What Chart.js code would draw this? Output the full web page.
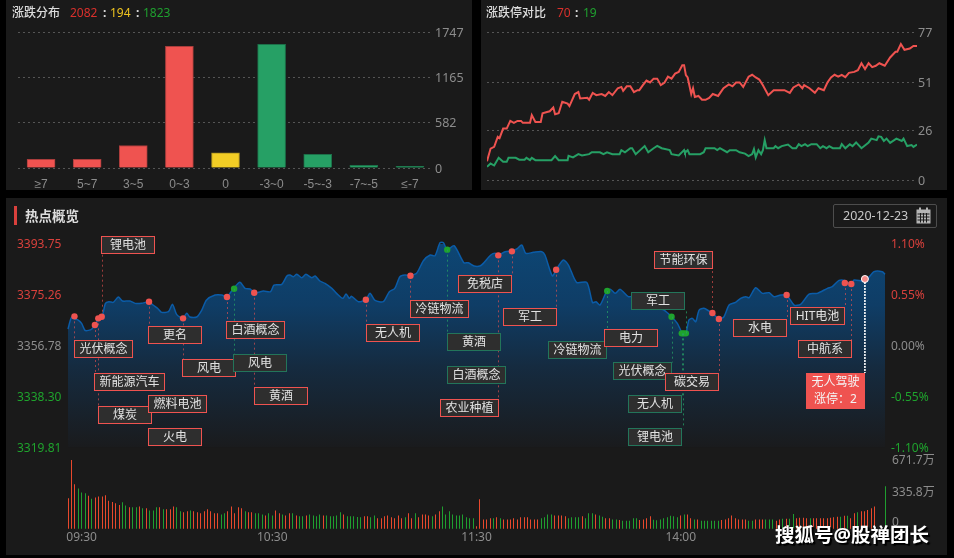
<!DOCTYPE html>
<html lang="zh">
<head>
<meta charset="utf-8">
<script src="https://cdn.jsdelivr.net/npm/chart.js@4"></script>
<style>
html,body{margin:0;padding:0;background:#000;width:954px;height:558px;overflow:hidden;font-family:"Noto Sans","Noto Sans CJK SC",sans-serif}
.panel{position:absolute;background:#1a1a1a}
canvas{position:absolute}
.t{position:absolute;white-space:nowrap;line-height:16px;font-size:12px}
</style>
</head>
<body>
<div class="panel" style="left:6px;top:0;width:466px;height:190px"></div>
<div class="panel" style="left:481px;top:0;width:466px;height:190px"></div>
<div class="panel" style="left:6px;top:198px;width:941px;height:357px"></div>

<div style="position:absolute;left:6px;top:0;width:466px;height:190px"><canvas id="dist"></canvas></div>
<div style="position:absolute;left:481px;top:0;width:466px;height:190px"><canvas id="limit"></canvas></div>
<div style="position:absolute;left:6px;top:198px;width:941px;height:257px"><canvas id="hot"></canvas></div>
<div style="position:absolute;left:6px;top:445px;width:941px;height:110px"><canvas id="vol"></canvas></div>

<span class="t" style="left:12px;top:5px;color:#ddd;font-weight:500">涨跌分布</span>
<span class="t" style="left:70px;top:5px;color:#d9302c">2082</span>
<span class="t" style="left:103px;top:5px;color:#ddd;font-weight:700">:</span>
<span class="t" style="left:110px;top:5px;color:#eec31f">194</span>
<span class="t" style="left:136px;top:5px;color:#ddd;font-weight:700">:</span>
<span class="t" style="left:143px;top:5px;color:#1fa02f">1823</span>

<span class="t" style="left:486px;top:5px;color:#ddd;font-weight:500">涨跌停对比</span>
<span class="t" style="left:557px;top:5px;color:#d9302c">70</span>
<span class="t" style="left:575px;top:5px;color:#ddd;font-weight:700">:</span>
<span class="t" style="left:583px;top:5px;color:#1fa02f">19</span>

<div style="position:absolute;left:14px;top:206px;width:3px;height:19px;background:#d9403c"></div>
<span class="t" style="left:25px;top:208px;color:#ddd;font-size:13.5px;font-weight:700">热点概览</span>

<div style="position:absolute;left:833px;top:204px;width:102px;height:22px;border:1px solid #4d4d4d;border-radius:2px"></div>
<span class="t" style="left:843px;top:208px;color:#c8c8c8;font-size:12.5px">2020-12-23</span>
<svg style="position:absolute;left:916px;top:207px" width="15" height="17" viewBox="0 0 15 17">
<rect x="0.5" y="2.5" width="14" height="14" fill="#b5b5b5"/>
<rect x="3" y="0.5" width="2" height="4" fill="#b5b5b5"/><rect x="10" y="0.5" width="2" height="4" fill="#b5b5b5"/>
<path d="M1.5 7h12M1.5 10h12M1.5 13h12M4.5 6v9.5M7.5 6v9.5M10.5 6v9.5" stroke="#1a1a1a" stroke-width="1" fill="none"/>
</svg>

<span class="t" style="left:775px;top:523px;line-height:24px;color:#fff;font-size:19.5px;font-weight:700;text-shadow:1px 1px 1px #000,2px 2px 1px #000">搜狐号@股禅团长</span>

<script>
/* ---------- distribution ---------- */
const distLabels = ['≥7','5~7','3~5','0~3','0','-3~0','-5~-3','-7~-5','≤-7'];
const distValues = [112,112,290,1568,194,1595,175,33,20];
const distTicks  = [0,582,1165,1747];

/* ---------- limit up / limit down ---------- */
const limitUpMinutes = [0,2,4,6,7,9,11,13,15,17,19,20,22,24,25,27,30,31,33,35,37,38,40,42,45,46,49,51,52,56,57,59,61,64,66,68,70,73,75,76,78,80,82,84,85,87,89,91,93,95,97,99,101,103,105,107,109,110,111,112,114,115,116,118,120,122,124,126,129,132,135,137,139,141,143,146,148,150,152,154,157,160,163,166,169,171,174,176,177,180,183,185,188,190,192,194,196,198,200,202,205,207,209,211,213,215,217,219,222,225,228,229,231,233,236,238,240];
const limitUpValues  = [10,16.6,17.5,22.7,22,27,27,31,30,31,31,30,30,30,34,30.5,30.5,35,35.5,36,38,34.5,35,41,40,38.7,45,46,42.7,43,42,45.6,44.4,45,44,46,44.4,48,48.7,46.6,49,49,46,47,47,49.6,52,51,53,53,49.6,50.8,54,53,55.6,56.5,60,60,54.8,53.6,45,48,43.5,44,42,42,43,45,44,48,50,49,51,51,48.7,54,55,53.6,52.5,49.6,44.4,47,47,47,45.6,48.4,50,48,49.6,48,45.6,48,47,51,53.6,55,54,55,53.8,56,56.5,57.4,61,58,61,59,59.7,61,59.7,64,67,67,71,68,68.7,70,70];
const limitDownMinutes = [0,2,4,6.5,9,11,12,16,18,21,22,24,25,27,36,38,40,45,45.5,48,51,53,57,58.5,63,65,67,70,74,75,77,80,81,83,85.5,88,90,93,95,97.5,102,103,107,110,110.5,112,113,119,121,122,127,128.5,130,134,135.5,139,141,144,146,148,149,150,151.5,153,154,155,156,160,161,162.5,164.5,168,170.5,172.5,174,175.5,177.5,179,181,184,186,187.5,189.5,191,193,197,198,200,202.5,204,206,209,213,214.5,217.5,218.5,220,221.5,223,225,228.5,231.5,232.5,234.5,237,238,240];
const limitDownValues  = [7.1,8.8,7.8,11.8,9.7,9.7,11.8,11.8,10.8,10.8,11.8,10.6,11.8,10.6,10.6,12.7,10.6,10.6,12.8,12,13.7,13,13.7,14.7,14.7,13.7,14.7,13.7,13.7,15.8,14.7,16.8,16.8,13.7,15.8,17.9,14.7,16.8,18,16.8,15.8,13.7,13,15.8,14.4,15.8,13.7,13.7,14.7,16.8,16.8,15.8,16.8,14.7,15.8,15.8,14.7,14,12.7,13.7,16.3,12,15.8,13.7,15.8,21,16.8,16.8,17.9,16.8,17.9,18.7,16.8,16.8,18.9,17.9,18.9,17.9,18.9,18.9,16.8,17.9,16.8,17.9,16.8,16.8,18.9,16.8,18.9,17.9,19.8,16.8,19.8,21.8,21,23,22.7,20.6,21.8,19.6,21.8,20.6,21.8,17.9,18.4,17.5,18.7];
const limitTicks = [0,26,51,77];

/* ---------- index intraday ---------- */
const priceMinutes = [0,1,2,3,4,5,6,7,8,9,10,11,12,13.3,14.8,16,18.2,19.7,21.6,23.8,25,26.5,27.5,29.5,30.7,31.9,33.7,34.9,35.8,37.8,39.3,40.7,43.2,45.2,46.6,48.6,50.5,52,53.5,54.7,55.9,57.4,59.5,60.5,62.8,64.3,65.2,66.2,67.2,68.7,69.9,71.6,72.6,74,75.5,77.5,78.9,80.7,81.7,82.6,83.3,85.3,87.5,88.7,90.2,92.6,94.4,96,97.5,99,100.5,102.4,104.4,106.4,107.8,109.3,110.3,111.4,113.4,116.3,117.6,119.3,121,122,124.2,125.5,126.4,128.4,130.3,131.8,133.3,134.5,136.7,139.2,140.1,142.3,143.4,145.5,147,149.4,152.4,154.1,155.1,156.3,158.3,159.4,160.7,162.2,164.6,166.6,169.2,173.4,175.1,177.3,179,180.5,181.5,182.4,183.4,184.4,185.4,186.8,188.3,189.3,191.2,192.7,194.2,196.1,197.6,199.1,200.1,202,204,206,207.4,209.4,211.1,213.3,215.2,217.7,220.1,223.1,224.5,226.5,228.2,229,230.1,230.9,234.1,236.8,239.2,240];
const priceValues = [3362.86,3366.98,3366.49,3366.13,3364.92,3362.37,3362.37,3362.86,3364.55,3366.73,3367.34,3372.18,3372.79,3372.55,3374.49,3373.03,3373.03,3372.18,3372.18,3372.79,3371.58,3370.13,3368.91,3369.16,3371.82,3368.19,3366.73,3368.55,3367.22,3367.22,3369.76,3373.4,3375.21,3375.21,3374.49,3377.51,3379.81,3377.64,3377.39,3376.06,3376.18,3376.67,3376.42,3378.85,3379.09,3382.12,3382.48,3381.88,3382.72,3381.51,3382.72,3381.51,3382.12,3380.3,3379.45,3377.64,3375.82,3374,3375.58,3374,3374.73,3372.79,3373.52,3375.82,3373.27,3372.79,3376.42,3377.64,3381.88,3382.48,3382.36,3383.09,3387.69,3389.75,3389.5,3394.23,3394.23,3391.56,3393.14,3386.96,3386.96,3385.75,3385.75,3386.72,3389.75,3390.35,3389.63,3390.96,3391.2,3391.93,3393.38,3390.35,3390.72,3390.96,3389.75,3382.12,3384.42,3387.93,3386.11,3379.81,3379.81,3372.43,3372.79,3371.58,3376.67,3377.27,3375.82,3377.27,3374.61,3374.85,3372.79,3370.37,3369.76,3367.34,3364.92,3361.28,3361.28,3366.13,3366.73,3365.52,3369.76,3370.37,3369.4,3368.67,3366.49,3367.34,3371.58,3372.55,3374,3374.61,3374.24,3377.88,3375.82,3376.06,3374.61,3375.21,3375.21,3371.58,3371.82,3375.58,3375.82,3377.64,3378.24,3380.54,3380.54,3379.81,3379.21,3380.66,3380.3,3383.69,3383.69,3382.72];
const priceTicks = [3319.81,3338.30,3356.78,3375.26,3393.75];
const percentTicks = [-1.10,-0.55,0,0.55,1.10];

/* ---------- hotspot labels ---------- */
const hotNames   = ['光伏概念','新能源汽车','煤炭','锂电池','更名','燃料电池','火电','风电','白酒概念','风电','黄酒','无人机','冷链物流','黄酒','白酒概念','农业种植','免税店','军工','冷链物流','电力','光伏概念','无人机','锂电池','军工','节能环保','碳交易','水电','HIT电池','中航系'];
const hotMinutes = [1.9,7.9,8.9,9.9,23.8,null,null,33.8,46.7,48.8,54.7,87.5,100.6,111.4,null,126.4,130.4,143.4,158.4,null,177.3,180.3,180.8,181.5,189.3,191.2,211.1,228.2,230.1];
const hotPrices  = [3367.46,3364.31,3366.73,3367.34,3372.79,null,null,3366.73,3374.49,3377.51,3376.06,3373.52,3382.24,3391.69,null,3389.63,3391.08,3384.42,3376.67,null,3367.34,3361.28,3361.28,3361.28,3368.67,3366.49,3375.21,3379.57,3379.21];
const hotRising  = [1,1,1,1,1,1,1,1,1,0,1,1,1,0,0,1,1,1,0,1,0,0,0,0,1,1,1,1,1];
const currentName = ['无人驾驶','涨停：2'];
const currentMinute = 234.1;
const currentPrice = 3381.03;

/* ---------- volume ---------- */
const timeTicks = ['09:30','10:30','11:30','14:00'];
const volumeTickLabels = ['671.7万','335.8万','0'];
const volumeValues = [
297,671.7,434,394,355,346,323,293,306,316,
316,326,274,261,248,231,258,228,209,209,
209,218,199,199,179,179,209,209,189,189,
189,218,209,170,160,170,179,170,160,150,
170,189,170,150,150,140,150,170,218,150,
209,199,170,160,160,150,150,140,130,150,
130,179,150,140,130,150,150,130,121,121,
130,140,130,121,140,130,130,121,121,130,
160,140,121,121,121,114,111,121,121,111,
130,101,101,121,130,111,101,130,101,111,
150,101,150,111,140,140,130,121,140,170,
218,140,170,140,130,130,140,111,101,101,
23,287,91,91,101,101,111,101,91,91,
91,101,91,111,111,111,91,91,91,101,
111,140,140,130,130,130,121,101,111,111,
111,121,101,150,150,140,130,117,101,101,
91,91,85,78,78,78,101,101,85,91,
101,121,88,82,91,101,111,127,121,111,
130,140,140,101,91,91,78,78,78,78,
78,78,85,91,101,130,101,91,91,91,
78,78,91,91,91,91,91,91,78,91,
98,98,98,143,101,108,108,101,101,101,
101,101,101,101,108,111,117,117,127,127,
101,150,160,170,170,183,199,218,null,null,414];
const volumeRising = [
1,1,1,0,0,0,1,0,1,1,
1,1,1,1,1,1,0,0,1,0,
0,1,0,1,0,0,0,1,0,1,
1,1,0,0,1,1,0,1,1,1,
1,1,1,1,1,0,0,1,1,1,
1,1,0,1,1,0,0,0,1,0,
0,1,1,0,1,1,0,1,0,0,
1,0,0,0,0,1,0,0,0,0,
0,1,0,0,0,0,0,1,1,0,
0,1,1,1,1,1,1,1,1,0,
1,1,0,1,1,1,1,0,1,1,
0,0,0,0,0,0,0,0,0,0,
1,1,1,1,1,0,1,0,1,1,
1,1,1,1,1,1,1,1,1,0,
0,0,0,1,1,1,1,0,0,0,
0,1,0,0,0,1,0,0,1,1,
0,0,1,0,0,0,0,0,1,1,
1,1,0,0,0,0,0,0,0,0,
1,0,1,1,0,1,0,0,0,0,
0,0,1,1,1,1,1,1,1,1,
0,0,1,1,1,0,0,0,1,1,
0,1,0,0,1,1,1,1,0,1,
1,1,1,1,1,1,1,0,1,0,
1,1,0,1,1,1,1,1,0,0,0];

/* ---------- layout and style (separate from the data) ---------- */
const FONT = '"Noto Sans","Noto Sans CJK SC",sans-serif';
const GREY = '#8c8c8c', RED = '#ef5350', GREEN_BAR = '#26a065', MARK_GREEN = '#1fa32d';
const UP_TEXT = '#d8403c', DOWN_TEXT = '#1fa32d';
/* page-space boxes [left, top, right, bottom], same order as hotNames */
const BOXES = [[74.5,340.5,132.5,357.5],[94.5,373.5,164.5,390.5],[98.5,406.5,151.5,423.5],[101.5,236.5,154.5,253.5],[148.5,326.5,201.5,343.5],[148.5,395.5,206.5,412.5],[148.5,428.5,201.5,445.5],[182.5,359.5,235.5,376.5],[226.5,321.5,284.5,338.5],[233.5,354.5,286.5,371.5],[254.5,387.5,307.5,404.5],[366.5,324.5,419.5,341.5],[410.5,300.5,468.5,317.5],[447.5,333.5,500.5,350.5],[447.5,366.5,505.5,383.5],[440.5,399.5,498.5,416.5],[458.5,275.5,511.5,292.5],[503.5,308.5,556.5,325.5],[548.5,341.5,606.5,358.5],[604.5,329.5,657.5,346.5],[613.5,362.5,671.5,379.5],[628.5,395.5,681.5,412.5],[628.5,428.5,681.5,445.5],[631.5,292.5,684.5,309.5],[654.5,251.5,712.5,268.5],[665.5,373.5,718.5,390.5],[733.5,319.5,786.5,336.5],[790.5,307.5,844.5,324.5],[798.5,340.5,851.5,357.5]];
const CURRENT_BOX = [806,373,865,409];
const HOT_ORIGIN = [6,198];

Chart.defaults.font.family = FONT;
Chart.defaults.font.size = 12;
Chart.defaults.color = GREY;
Chart.defaults.animation = false;
Chart.defaults.responsive = true;
Chart.defaults.maintainAspectRatio = false;
Chart.defaults.plugins.legend.display = false;
Chart.defaults.plugins.tooltip.enabled = false;

const dashGrid = {color:'#555',drawTicks:false,lineWidth:1};
const noGrid = {display:false,drawTicks:false};
const noBorder = {display:false,dash:[2,3]};
function fixedTicks(values){return ax=>{ax.ticks=values.map(v=>({value:v}));};}
function fitWidth(w){return a=>{a.width=w;a.paddingTop=0;a.paddingBottom=0;};}
function fitHeight(h){return a=>{a.height=h;a.paddingLeft=0;a.paddingRight=0;};}
const pair = (xs,ys)=>xs.map((x,i)=>({x,y:ys[i]}));

/* Distribution bars */
new Chart(document.getElementById('dist'),{
  type:'bar',
  data:{labels:distLabels,datasets:[{data:distValues,barThickness:28,
    backgroundColor:distValues.map((_,i)=>i<4?RED:i===4?'#f2cd25':GREEN_BAR),
    borderColor:distValues.map((_,i)=>i<4?'#a93d3c':i===4?'#a88f20':'#1c7049'),borderWidth:1,borderSkipped:'bottom'}]},
  options:{layout:{padding:{left:12,top:32.5,right:0,bottom:0}},
    scales:{
      x:{grid:noGrid,border:{display:false},ticks:{padding:9,color:GREY,font:{size:12,family:'"Liberation Sans","Noto Sans CJK SC",sans-serif'},maxRotation:0,autoSkip:false},afterFit:fitHeight(22)},
      y:{position:'right',min:0,max:1747,afterBuildTicks:fixedTicks(distTicks),
         grid:dashGrid,border:noBorder,ticks:{padding:2,labelOffset:1,color:GREY,font:{size:12.5},callback:v=>String(v)},afterFit:fitWidth(39)}
    }}
});

/* Limit-up vs limit-down lines */
new Chart(document.getElementById('limit'),{
  type:'line',
  data:{datasets:[
    {data:pair(limitUpMinutes,limitUpValues),borderColor:RED,borderWidth:2,pointRadius:0,tension:0},
    {data:pair(limitDownMinutes,limitDownValues),borderColor:GREEN_BAR,borderWidth:2,pointRadius:0,tension:0}]},
  options:{layout:{padding:{left:6,top:32.5,right:0,bottom:9.5}},
    scales:{
      x:{type:'linear',min:0,max:240,display:false},
      y:{position:'right',min:0,max:77,afterBuildTicks:fixedTicks(limitTicks),
         grid:dashGrid,border:noBorder,ticks:{padding:1,labelOffset:1,color:GREY,font:{size:12.5},callback:v=>String(v)},afterFit:fitWidth(30)}
    }}
});

/* Hotspot labels are drawn on top of the price chart */
const hotLabels = {
  id:'hotLabels',
  afterDatasetsDraw(chart){
    const c=chart.ctx, X=chart.scales.x, Y=chart.scales.y;
    const [ox,oy]=HOT_ORIGIN;
    c.save();
    c.lineWidth=1;
    hotNames.forEach((_,i)=>{
      if(hotMinutes[i]===null) return;
      const b=BOXES[i], px=Math.round(X.getPixelForValue(hotMinutes[i]))+0.5, py=Y.getPixelForValue(hotPrices[i]);
      const end=py<b[1]-oy ? b[1]-oy : b[3]-oy;
      c.strokeStyle=hotRising[i]?'rgba(239,83,80,.62)':'rgba(38,160,101,.75)';
      c.setLineDash([2,3]);
      c.beginPath();c.moveTo(px,py);c.lineTo(px,end);c.stroke();
    });
    const cx=X.getPixelForValue(currentMinute), cy=Y.getPixelForValue(currentPrice);
    c.strokeStyle='#fff';c.lineWidth=1.6;c.setLineDash([2,1]);
    c.beginPath();c.moveTo(cx,cy);c.lineTo(cx,CURRENT_BOX[1]-oy);c.stroke();
    c.setLineDash([]);c.lineWidth=1;
    c.font='12px '+FONT;c.textAlign='center';c.textBaseline='middle';
    hotNames.forEach((n,i)=>{
      const b=BOXES[i], l=b[0]-ox, t=b[1]-oy, w=b[2]-b[0], h=b[3]-b[1];
      c.fillStyle='#2e2e2e';c.fillRect(l,t,w,h);
      c.strokeStyle=hotRising[i]?'#ef5350':'#23755a';c.strokeRect(l,t,w,h);
      c.fillStyle='#e2e2e2';c.fillText(n,l+w/2,t+h/2+0.5);
    });
    const f=CURRENT_BOX;
    c.fillStyle=RED;c.fillRect(f[0]-ox,f[1]-oy,f[2]-f[0],f[3]-f[1]);
    c.fillStyle='#f4f4f4';
    currentName.forEach((n,i)=>c.fillText(n,(f[0]+f[2])/2-ox,f[1]-oy+10+i*16.5));
    c.fillStyle='#f58a88';c.strokeStyle='#fff';c.lineWidth=1;
    c.beginPath();c.arc(cx,cy,3.5,0,Math.PI*2);c.fill();c.stroke();
    c.restore();
  }
};

const marked = hotNames.map((_,i)=>i).filter(i=>hotMinutes[i]!==null);
new Chart(document.getElementById('hot'),{
  type:'line',
  plugins:[hotLabels],
  data:{datasets:[
    {data:marked.map(i=>({x:hotMinutes[i],y:hotPrices[i]})),showLine:false,order:0,pointRadius:3.2,pointBorderWidth:0,
     pointBackgroundColor:marked.map(i=>hotRising[i]?RED:MARK_GREEN)},
    {data:pair(priceMinutes,priceValues),order:1,borderColor:'#0b5ca8',borderWidth:1.5,pointRadius:0,tension:0.25,fill:'start',
     backgroundColor(ctx){
       const a=ctx.chart.chartArea; if(!a) return '#123';
       const g=ctx.chart.ctx.createLinearGradient(0,a.top,0,a.bottom);
       g.addColorStop(0,'#0d4674');g.addColorStop(0.3,'#0f3d66');g.addColorStop(0.6,'#152b40');g.addColorStop(1,'#1a1b1d');
       return g;
     }}]},
  options:{clip:false,layout:{padding:{left:11,top:46,right:0,bottom:7.5}},
    scales:{
      x:{type:'linear',min:0,max:240,display:false},
      y:{position:'left',min:priceTicks[0],max:priceTicks[4],afterBuildTicks:fixedTicks(priceTicks),
         grid:noGrid,border:{display:false},
         ticks:{crossAlign:'far',padding:0,labelOffset:1,font:{size:12},callback:v=>v.toFixed(2),
           color:c=>c.index>2?UP_TEXT:c.index===2?GREY:DOWN_TEXT},
         afterFit:fitWidth(51)},
      yr:{position:'right',min:percentTicks[0],max:percentTicks[4],afterBuildTicks:fixedTicks(percentTicks),
         grid:noGrid,border:{display:false},
         ticks:{padding:6,labelOffset:1,font:{size:12},callback:v=>v.toFixed(2)+'%',
           color:c=>c.index>2?UP_TEXT:c.index===2?GREY:DOWN_TEXT},
         afterFit:fitWidth(62)}
    }}
});

/* Thin bars are snapped to whole pixels so they stay crisp */
const crispBars = {
  id:'crispBars',
  beforeDatasetsDraw(chart){
    chart.getDatasetMeta(0).data.forEach(el=>{el.x=Math.floor(el.x)+0.5;el.width=1;});
  }
};

/* Volume bars; label anchors sit a little inside the bar range, like the original panel */
const VOLUME_LABEL_AT = [671.7,362,65];
const TIME_TICK_AT = [4,60,120,180];
new Chart(document.getElementById('vol'),{
  type:'bar',
  plugins:[crispBars],
  data:{datasets:[{data:volumeValues.map((v,i)=>({x:i,y:v})),barThickness:1,inflateAmount:0,
    backgroundColor:volumeRising.map(r=>r?'#e8482c':'#1f9e2f')}]},
  options:{clip:false,layout:{padding:{left:11,top:15,right:0,bottom:0}},
    scales:{
      x:{type:'linear',offset:false,min:0,max:240,afterBuildTicks:fixedTicks(TIME_TICK_AT),
         grid:noGrid,border:{display:false},
         ticks:{padding:2,color:GREY,font:{size:12},maxRotation:0,autoSkip:false,
           callback:(v,i)=>timeTicks[i]},
         afterFit:fitHeight(26.3)},
      y:{display:false,position:'left',min:0,max:671.7,afterFit:fitWidth(51)},
      yl:{position:'right',min:0,max:671.7,afterBuildTicks:fixedTicks(VOLUME_LABEL_AT),
         grid:noGrid,border:{display:false},
         ticks:{padding:7,labelOffset:1,color:GREY,font:{size:12},callback:(v,i)=>volumeTickLabels[i]},
         afterFit:fitWidth(62)}
    }}
});
</script>
</body>
</html>
